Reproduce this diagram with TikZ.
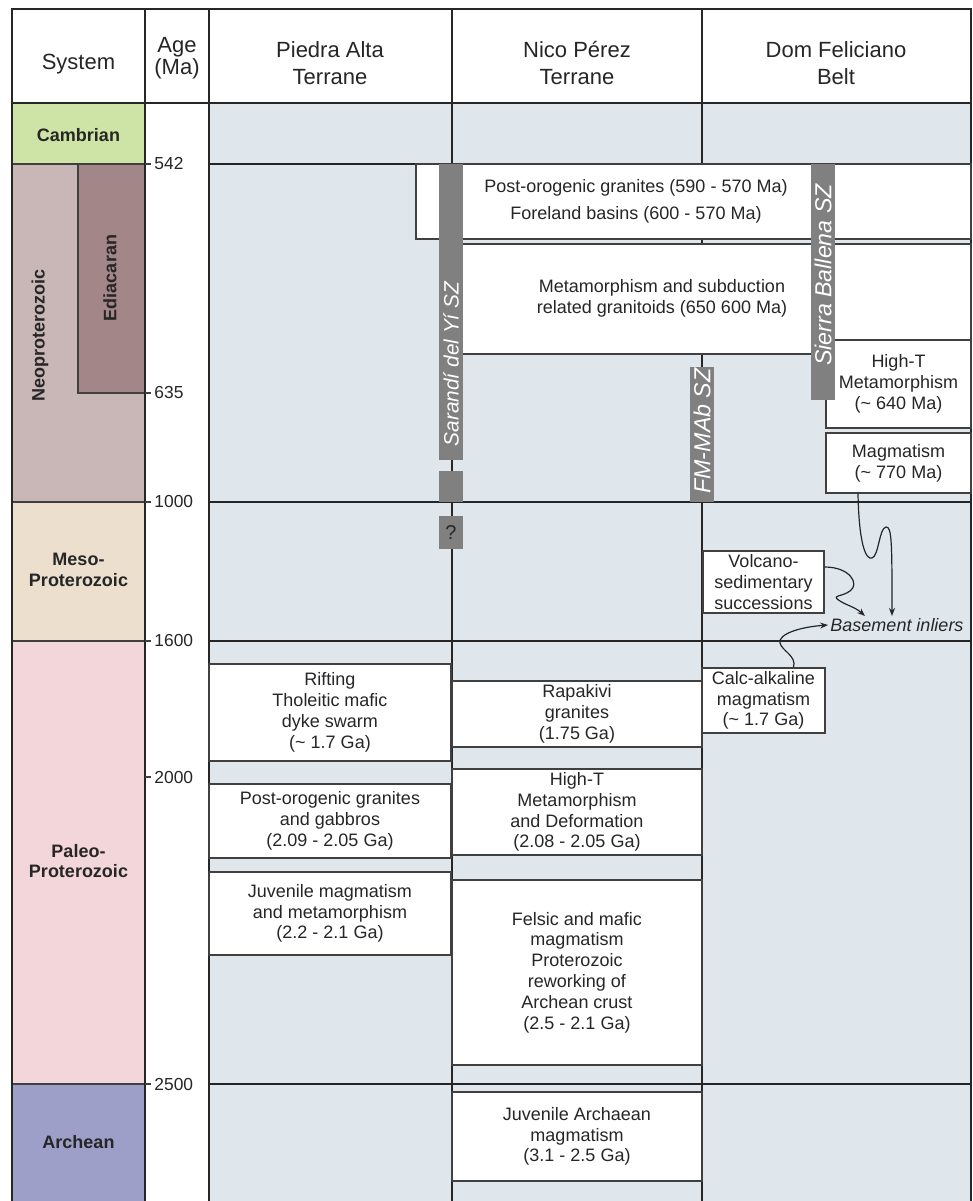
\documentclass[tikz,border=0pt]{standalone}
\usepackage{fontspec}
\setmainfont{Liberation Sans}
\usetikzlibrary{arrows.meta}
\definecolor{bgblue}{RGB}{223,231,236}
\definecolor{cambr}{RGB}{206,227,166}
\definecolor{neopr}{RGB}{201,183,183}
\definecolor{ediac}{RGB}{163,134,135}
\definecolor{mesop}{RGB}{236,223,206}
\definecolor{paleo}{RGB}{243,214,217}
\definecolor{arche}{RGB}{158,159,200}
\definecolor{szgray}{RGB}{128,128,128}
\tikzset{
  grid/.style={line width=1pt, black!85},
  bound/.style={line width=1.3pt, black!85},
  era/.style={draw=black!75, line width=0.7pt},
  eralbl/.style={
    font=\fontsize{9}{10.4}\selectfont\bfseries,
    text=black!85, align=center
  },
  hdr/.style={font=\fontsize{11}{13.3}\selectfont, align=center, text=black!85},
  evbox/.style={
    draw=black!75, line width=0.7pt, fill=white,
    inner sep=0pt, align=center,
    font=\fontsize{9}{10.4}\selectfont, text=black!85
  },
  txt/.style={font=\fontsize{9}{10.4}\selectfont, align=center, text=black!85},
  agelbl/.style={anchor=west, inner sep=1pt, font=\fontsize{8.7}{10}\selectfont, text=black!85},
  szbar/.style={fill=szgray},
  sz/.style={rotate=90, text=white, inner sep=0pt, font=\fontsize{11.6}{13}\selectfont\itshape},
  flow/.style={-{Stealth[length=4pt,width=3pt]}, line width=0.6pt, black!85},
}
\begin{document}
\begin{tikzpicture}[x=0.5pt,y=-0.5pt]
  \useasboundingbox (0,0) rectangle (973,1201);
  \fill[white] (0,0) rectangle (973,1201);
  \fill[bgblue] (209,103) rectangle (971,1201);
  % system column
  \fill[cambr] (12,103) rectangle (145,164);
  \fill[neopr] (12,164) rectangle (145,502);
  \fill[mesop] (12,502) rectangle (145,641);
  \fill[paleo] (12,641) rectangle (145,1084);
  \fill[arche] (12,1084) rectangle (145,1201);
  \draw[era, fill=ediac] (145,164) -- (78,164) -- (78,393) -- (145,393);
  \draw[era] (12,164) -- (145,164);
  \draw[era] (12,502) -- (145,502);
  \draw[era] (12,641) -- (145,641);
  \draw[era] (12,1084) -- (145,1084);
  % frame and columns
  \draw[grid] (12,1201) -- (12,9) -- (971,9) -- (971,1201);
  \draw[grid] (12,103) -- (971,103);
  \draw[grid] (145,9) -- (145,1201);
  \draw[grid] (209,9) -- (209,1201);
  \draw[grid] (452,9) -- (452,1201);
  \draw[grid] (702,9) -- (702,1201);
  \draw[bound] (209,164) -- (971,164);
  \draw[bound] (209,502) -- (971,502);
  \draw[bound] (209,641) -- (971,641);
  \draw[bound] (209,1084) -- (971,1084);
  % age ticks
  \draw[era] (145,164) -- (151,164);
  \draw[era] (145,393) -- (151,393);
  \draw[era] (145,502) -- (151,502);
  \draw[era] (145,641) -- (151,641);
  \draw[era] (145,777) -- (151,777);
  \draw[era] (145,1084) -- (151,1084);
  \node[agelbl] (a542)  at (152,164)  {542};
  \node[agelbl] (a635)  at (152,393)  {635};
  \node[agelbl] (a1000) at (152,502)  {1000};
  \node[agelbl] (a1600) at (152,641)  {1600};
  \node[agelbl] (a2000) at (152,777)  {2000};
  \node[agelbl] (a2500) at (152,1084) {2500};
  % headers
  \node[hdr] (hSys) at (78.5,64) {System};
  \node[hdr, font=\fontsize{11}{11}\selectfont] (hAge) at (177,58) {Age\\(Ma)};
  \node[hdr] (hPA) at (330,63) {Piedra Alta\\Terrane};
  \node[hdr] (hNP) at (577,63) {Nico Pérez\\Terrane};
  \node[hdr] (hDF) at (836,63) {Dom Feliciano\\Belt};
  \node[eralbl] (cam) at (78.5,135) {Cambrian};
  \node[eralbl, rotate=90] (neo) at (40,335) {Neoproterozoic};
  \node[eralbl, rotate=90] (edi) at (110,278) {Ediacaran};
  \node[eralbl] (mes) at (78.5,570) {Meso-\\Proterozoic};
  \node[eralbl] (pal) at (78.5,861) {Paleo-\\Proterozoic};
  \node[eralbl] (arc) at (78.5,1142) {Archean};
  % Neoproterozoic events
  \node[evbox, minimum width=277.5pt, minimum height=37.5pt] (post) at (693.5,201.5) {};
  \node[txt, font=\fontsize{9}{13.5}\selectfont] (postT) at (636,201) {Post-orogenic granites (590 - 570 Ma)\\Foreland basins (600 - 570 Ma)};
  \node[evbox, minimum width=259.5pt, minimum height=55pt] (meta) at (711.5,299) {};
  \node[txt] (metaT) at (662,298) {Metamorphism and subduction\\related granitoids (650 600 Ma)};
  \node[evbox, minimum width=72.5pt, minimum height=44pt] (hitd) at (898.5,384) {High-T\\Metamorphism\\(\textasciitilde{} 640 Ma)};
  \node[evbox, minimum width=72.5pt, minimum height=30pt] (magd) at (898.5,463) {Magmatism\\(\textasciitilde{} 770 Ma)};
  % Meso and Paleoproterozoic events
  \node[evbox, minimum width=60.5pt, minimum height=31pt] (volc) at (763.5,582) {Volcano-\\sedimentary\\successions};
  \node[txt, font=\fontsize{9}{10.4}\selectfont\itshape, inner sep=1pt] (bas) at (897,625) {Basement inliers};
  \node[evbox, minimum width=61.5pt, minimum height=32.5pt] (calc) at (763.5,700.5) {Calc-alkaline\\magmatism\\(\textasciitilde{} 1.7 Ga)};
  \node[evbox, minimum width=121pt, minimum height=48.5pt] (rift) at (330,712.5) {Rifting\\Tholeitic mafic\\dyke swarm\\(\textasciitilde{} 1.7 Ga)};
  \node[evbox, minimum width=121pt, minimum height=37pt] (pogg) at (330,821) {Post-orogenic granites\\and gabbros\\(2.09 - 2.05 Ga)};
  \node[evbox, minimum width=121pt, minimum height=41.5pt] (juvm) at (330,913.5) {Juvenile magmatism\\and metamorphism\\(2.2 - 2.1 Ga)};
  \node[evbox, minimum width=125pt, minimum height=33pt] (rapa) at (577,714) {Rapakivi\\granites\\(1.75 Ga)};
  \node[evbox, minimum width=125pt, minimum height=43pt] (hitn) at (577,812) {High-T\\Metamorphism\\and Deformation\\(2.08 - 2.05 Ga)};
  \node[evbox, minimum width=125pt, minimum height=92.5pt] (fels) at (577,972.5) {Felsic and mafic\\magmatism\\Proterozoic\\reworking of\\Archean crust\\(2.5 - 2.1 Ga)};
  \node[evbox, minimum width=125pt, minimum height=44.5pt] (juva) at (577,1136.5) {Juvenile Archaean\\magmatism\\(3.1 - 2.5 Ga)};
  % shear zones
  \fill[szbar] (439,164) rectangle (463,460);
  \fill[szbar] (439,471) rectangle (463,502);
  \fill[szbar] (811,164) rectangle (835,400);
  \fill[szbar] (690,367) rectangle (714,502);
  \node[sz, font=\fontsize{10.4}{12}\selectfont\itshape] (sar) at (451,364) {Sarandí del Yí SZ};
  \node[sz] (sib) at (823,275) {Sierra Ballena SZ};
  \node[sz] (fmm) at (702,431) {FM-MAb SZ};
  \node[fill=szgray, minimum width=12pt, minimum height=16.5pt, inner sep=0pt,
        font=\fontsize{10}{12}\selectfont, text=black!85] (qm) at (451,532.5) {?};
  % arrows to basement inliers
  \draw[flow] ([xshift=-20.25pt]magd.south) .. controls (859,545) and (866,560) .. (872,558)
    .. controls (879,556) and (879,528) .. (886,527)
    .. controls (892,526) and (892,545) .. ([xshift=-2.5pt]bas.north);
  \draw[flow] ([yshift=7.5pt]volc.east) .. controls (850,567) and (860,584) .. (850,591)
    .. controls (842,597) and (830,595) .. (840,601)
    .. controls (846,605) and (855,607) .. ([xshift=-16pt]bas.north);
  \draw[flow] ([xshift=15pt]calc.north) .. controls (797,656) and (782,651) .. (780,643)
    .. controls (778,634) and (800,627) .. (bas.west);
\end{tikzpicture}
\end{document}
